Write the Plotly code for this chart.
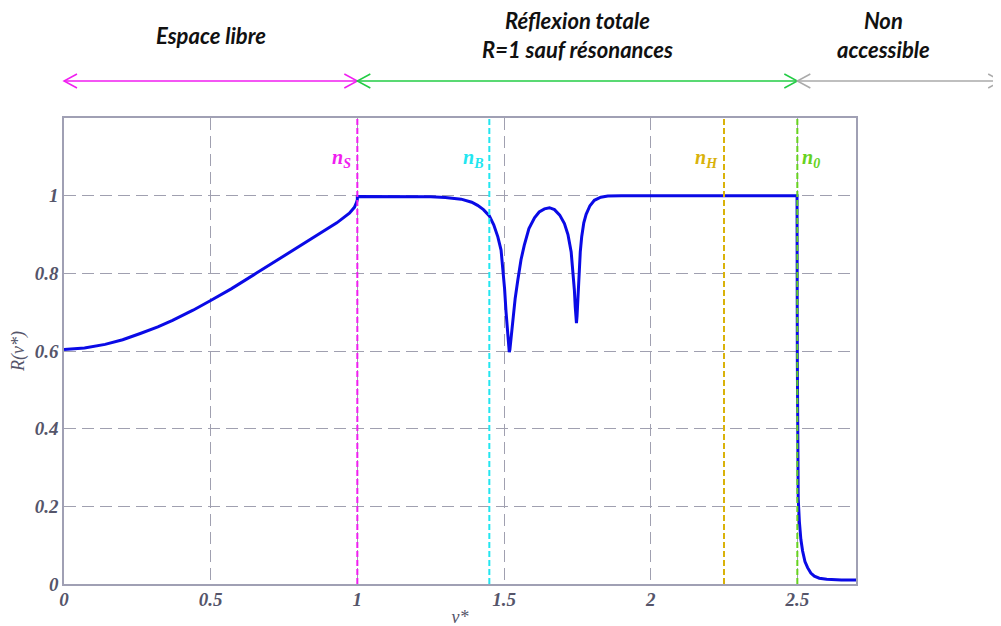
import plotly.graph_objects as go

# ---- data ----
nu = [0, 0.07, 0.14, 0.2, 0.26, 0.32, 0.37, 0.44, 0.5, 0.57, 0.655, 0.71, 0.768, 0.82, 0.882,
      0.93, 0.973, 0.99, 0.997, 1.0, 1.0, 1.05, 1.15, 1.25, 1.3, 1.354, 1.39, 1.41, 1.43, 1.45,
      1.465, 1.479, 1.49, 1.496, 1.502, 1.507, 1.511, 1.514, 1.516, 1.518, 1.520, 1.522, 1.525,
      1.530, 1.538, 1.547, 1.558, 1.569, 1.585, 1.604, 1.62, 1.638, 1.655, 1.672, 1.69, 1.706,
      1.718, 1.729, 1.735, 1.740, 1.743, 1.745, 1.747, 1.749, 1.752, 1.756, 1.760, 1.765, 1.772,
      1.780, 1.793, 1.808, 1.83, 1.854, 1.9, 2.0, 2.2, 2.4, 2.499, 2.5, 2.501, 2.503, 2.507,
      2.512, 2.518, 2.526, 2.535, 2.546, 2.558, 2.575, 2.6, 2.65, 2.7]
R = [0.604, 0.608, 0.617, 0.629, 0.645, 0.662, 0.679, 0.705, 0.730, 0.760, 0.800, 0.826, 0.855,
     0.880, 0.907, 0.930, 0.955, 0.970, 0.982, 0.990, 0.998, 0.998, 0.998, 0.997, 0.995, 0.991,
     0.983, 0.975, 0.964, 0.948, 0.925, 0.894, 0.860, 0.816, 0.760, 0.700, 0.655, 0.622, 0.605,
     0.597, 0.603, 0.617, 0.640, 0.680, 0.735, 0.782, 0.835, 0.872, 0.915, 0.943, 0.958, 0.966,
     0.969, 0.964, 0.950, 0.928, 0.900, 0.855, 0.810, 0.756, 0.712, 0.680, 0.672, 0.690, 0.740,
     0.805, 0.855, 0.895, 0.930, 0.952, 0.974, 0.988, 0.996, 0.999, 1.0, 1.0, 1.0, 1.0, 1.0,
     0.58, 0.32, 0.22, 0.16, 0.115, 0.085, 0.058, 0.042, 0.028, 0.020, 0.015, 0.012, 0.010, 0.010]

x_ticks = [0, 0.5, 1, 1.5, 2, 2.5]
x_ticklabels = ["0", "0.5", "1", "1.5", "2", "2.5"]
y_ticks = [0, 0.2, 0.4, 0.6, 0.8, 1]
y_ticklabels = ["0", "0.2", "0.4", "0.6", "0.8", "1"]

index_names = ["n<sub>S</sub>", "n<sub>B</sub>", "n<sub>H</sub>", "n<sub>0</sub>"]
index_values = [1.0, 1.45, 2.25, 2.5]
index_colors = ["#f01ef0", "#22e6f0", "#d9b20a", "#66d21e"]

region_names = ["<b><i>Espace libre</i></b>",
                "<b><i>Réflexion totale<br>R=1 sauf résonances</i></b>",
                "<b><i>Non<br>accessible</i></b>"]
region_bounds = [(0.0, 1.0), (1.0, 2.5), (2.5, 3.195)]
region_colors = ["#f01ef0", "#22cc44", "#aaaaaa"]

X_MAX, Y_MAX = 2.7, 1.2
PW, PH = 792, 466

fig = go.Figure()
fig.add_trace(go.Scatter(x=nu, y=R, mode="lines",
                         line=dict(color="#0a0ae6", width=3), showlegend=False))

axis_font = dict(family="Liberation Serif", size=19, color="#55556a", weight="bold", style="italic")
grid = dict(showgrid=True, gridcolor="#a0a0b0", griddash="12px,6px", gridwidth=1,
            showline=True, linecolor="#a0a0b4", linewidth=1.5, mirror=True,
            zeroline=False, ticks="outside", ticklen=0, tickcolor="rgba(0,0,0,0)",
            tickfont=axis_font)

fig.update_xaxes(range=[0, X_MAX], tickvals=x_ticks, ticktext=x_ticklabels,
                 ticklabelstandoff=-3,
                 title=dict(text="ν*", font=dict(family="Liberation Serif", size=18,
                                                color="#55556a", style="italic"), standoff=2),
                 **grid)
fig.update_yaxes(range=[0, Y_MAX], tickvals=y_ticks, ticktext=y_ticklabels,
                 ticklabelstandoff=0,
                 title=dict(text="R(ν*)", font=dict(family="Liberation Serif", size=18,
                                                   color="#55556a", style="italic"), standoff=14),
                 **grid)

shapes = []
annotations = []
for name, v, c in zip(index_names, index_values, index_colors):
    shapes.append(dict(type="line", xref="x", yref="paper", x0=v, x1=v, y0=0, y1=1,
                       line=dict(color=c, width=2, dash="6px,3px"), layer="above"))
    right = name.endswith("0</sub>")
    annotations.append(dict(x=v, y=1.2 - 0.105, xref="x", yref="y", text=name, showarrow=False,
                            xanchor="left" if right else "right",
                            xshift=3 if right else -4,
                            font=dict(family="Liberation Serif", size=20, color=c,
                                      weight="bold", style="italic")))

# region arrows (above the plot, paper coordinates)
ay = (583 - 80) / PH
dx, dy = 13 / PW, 7 / PH
for (a, b), c, name in zip(region_bounds, region_colors, region_names):
    xa, xb = a / X_MAX, b / X_MAX
    shapes.append(dict(type="line", xref="paper", yref="paper", x0=xa, x1=xb, y0=ay, y1=ay,
                       line=dict(color=c, width=1.5)))
    for xs, sgn in ((xa, 1), (xb, -1)):
        shapes.append(dict(type="path", xref="paper", yref="paper",
                           path=f"M {xs+sgn*dx} {ay+dy} L {xs} {ay} L {xs+sgn*dx} {ay-dy}",
                           line=dict(color=c, width=1.5)))
    center = (a + b) / 2 / X_MAX if b < 3 else (882 - 63) / PW
    cy = 34
    annotations.append(dict(x=center, y=(583 - cy) / PH,
                            xref="paper", yref="paper", text=name, showarrow=False,
                            xanchor="center", yanchor="middle",
                            font=dict(family="Lato", size=22, color="#111111")))

fig.update_layout(width=1001, height=626,
                  margin=dict(l=56, r=153, t=110, b=50, autoexpand=False),
                  paper_bgcolor="white", plot_bgcolor="white",
                  shapes=shapes, annotations=annotations)

fig.write_html("out.html")
